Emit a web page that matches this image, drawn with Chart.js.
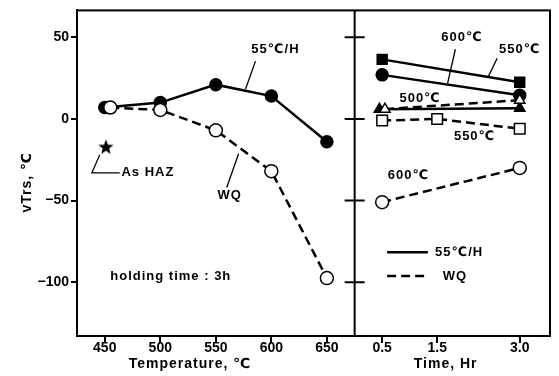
<!DOCTYPE html>
<html>
<head>
<meta charset="utf-8">
<script src="https://cdn.jsdelivr.net/npm/chart.js@4"></script>
<style>
  html, body { margin: 0; padding: 0; background: #fff; }
  #wrap { width: 559px; height: 376px; }
</style>
</head>
<body>
<div id="wrap"><canvas id="c"></canvas></div>
<script>
// left panel: tempering temperature vs vTrs (holding 3h)
const temps = [450, 500, 550, 600, 650];
const slowCool = [7, 10, 21, 14, -14];          // 55°C/H, filled circles
const wqTemps = [455, 500, 550, 600, 650];
const waterQuench = [7, 5.5, -7, -32, -97.5];   // WQ, open circles
const asHazX = [451];
const asHazY = [-17.5];

// right panel: holding time vs vTrs
const times = [0.5, 3.0];
const triTimesS = [0.45, 3.0];
const triTimesW = [0.55, 3.0];
const wqTimes3 = [0.5, 1.5, 3.0];
const slow550 = [36.5, 22.5];   // filled squares
const slow600 = [27, 14.5];     // filled circles
const slow500 = [6, 6.5];       // filled triangles
const wq500 = [6, 11.5];        // open triangles
const wq550 = [-1, 0, -6];      // open squares
const wq600 = [-51, -30];       // open circles

const tempTicks = [450, 500, 550, 600, 650];
const timeTicks = [0.5, 1.5, 3.0];
const vTicks = [-100, -50, 0, 50];

const FONT = '"Liberation Sans", "DejaVu Sans", sans-serif';

function pts(xs, ys) {
  return xs.map((x, i) => ({ x: x, y: ys[i] }));
}

function starImage(r) {
  const c = document.createElement('canvas');
  c.width = c.height = 2 * r + 2;
  const g = c.getContext('2d');
  g.beginPath();
  for (let i = 0; i < 10; i++) {
    const a = -Math.PI / 2 + i * Math.PI / 5;
    const rr = i % 2 ? r * 0.42 : r;
    g.lineTo(r + 1 + rr * Math.cos(a), r + 1 + rr * Math.sin(a));
  }
  g.closePath();
  g.fillStyle = '#000';
  g.fill();
  return c;
}

function series(xs, ys, axis, dashed, filled, style, radius) {
  return {
    data: pts(xs, ys),
    xAxisID: axis,
    yAxisID: 'y',
    borderColor: '#000',
    borderWidth: 2.5,
    borderDash: dashed ? [9, 5] : [],
    pointStyle: style,
    pointRadius: radius,
    pointBorderWidth: 1.5,
    pointBorderColor: '#000',
    pointBackgroundColor: filled ? '#000' : '#fff',
    tension: 0
  };
}

// text labels in data coordinates
const labels = [
  { text: '55℃/H', axis: 'xT', x: 582, y: 42.7, align: 'left' },
  { text: 'WQ', axis: 'xT', x: 562.5, y: -47, align: 'center' },
  { text: 'As HAZ', axis: 'xT', x: 465, y: -33, align: 'left' },
  { text: 'holding time : 3h', axis: 'xT', x: 455, y: -96.3, align: 'left' },
  { text: '600℃', axis: 'xH', x: 1.95, y: 50, align: 'center' },
  { text: '550℃', axis: 'xH', x: 3.0, y: 42.7, align: 'center' },
  { text: '500℃', axis: 'xH', x: 1.19, y: 12.8, align: 'center' },
  { text: '550℃', axis: 'xH', x: 2.18, y: -11, align: 'center' },
  { text: '600℃', axis: 'xH', x: 0.98, y: -34.8, align: 'center' }
];
const leaders = [
  { axis: 'xT', xs: [585.7, 576.8], ys: [35.4, 18.3] },
  { axis: 'xT', xs: [559.8, 570.5], ys: [-42, -21.3] },
  { axis: 'xT', xs: [445.5, 438.4, 463.5], ys: [-22, -33, -33] },
  { axis: 'xH', xs: [1.83, 1.69], ys: [42.7, 21.9] },
  { axis: 'xH', xs: [2.59, 2.42], ys: [37.2, 25.3] }
];
const legendItems = [
  { text: '55℃/H', dashed: false, y: -81.7, tx: 1.46 },
  { text: 'WQ', dashed: true, y: -96.3, tx: 1.6 }
];
const legendLine = [0.59, 1.33];

const framePlugin = {
  id: 'framePlugin',
  afterDraw(chart) {
    const { ctx, chartArea: a, scales } = chart;
    const y = scales.y;
    ctx.save();
    ctx.strokeStyle = '#000';
    ctx.fillStyle = '#000';
    ctx.lineWidth = 2;
    ctx.strokeRect(a.left, a.top, a.right - a.left, a.bottom - a.top);
    const d = scales.xT.right;
    ctx.beginPath();
    ctx.moveTo(d, a.top);
    ctx.lineTo(d, a.bottom);
    vTicks.forEach(v => {
      const py = y.getPixelForValue(v);
      ctx.moveTo(d - 10, py);
      ctx.lineTo(d + 10, py);
    });
    ctx.stroke();

    // leader lines
    ctx.lineWidth = 1.3;
    leaders.forEach(l => {
      const sx = scales[l.axis];
      ctx.beginPath();
      l.xs.forEach((xv, i) => {
        const px = sx.getPixelForValue(xv), py = y.getPixelForValue(l.ys[i]);
        if (i === 0) ctx.moveTo(px, py); else ctx.lineTo(px, py);
      });
      ctx.stroke();
    });

    // labels
    ctx.font = 'bold 13px ' + FONT;
    ctx.textBaseline = 'middle';
    try { ctx.letterSpacing = '1px'; } catch (e) {}
    labels.forEach(l => {
      ctx.textAlign = l.align;
      ctx.fillText(l.text, scales[l.axis].getPixelForValue(l.x), y.getPixelForValue(l.y));
    });

    // legend
    const xH = scales.xH;
    legendItems.forEach(it => {
      const py = y.getPixelForValue(it.y);
      ctx.beginPath();
      ctx.lineWidth = 2.5;
      ctx.setLineDash(it.dashed ? [9, 5] : []);
      ctx.moveTo(xH.getPixelForValue(legendLine[0]), py);
      ctx.lineTo(xH.getPixelForValue(legendLine[1]), py);
      ctx.stroke();
      ctx.setLineDash([]);
      ctx.textAlign = 'left';
      ctx.fillText(it.text, xH.getPixelForValue(it.tx), py);
    });

    // axis titles
    ctx.font = 'bold 14px ' + FONT;
    ctx.textAlign = 'center';
    ctx.fillText('Temperature, ℃', scales.xT.left + 113, a.bottom + 28);
    ctx.fillText('Time, Hr', xH.left + 91, a.bottom + 28);
    ctx.translate(a.left - 50, (a.top + a.bottom) / 2 + 9);
    ctx.rotate(-Math.PI / 2);
    ctx.fillText('vTrs, ℃', 0, 0);
    ctx.restore();
  }
};

const tickFont = { family: FONT, size: 14, weight: 'bold' };
const gridOpts = { drawOnChartArea: false, color: '#000', lineWidth: 2, tickLength: 7 };

new Chart(document.getElementById('c'), {
  type: 'line',
  data: {
    datasets: [
      series(wqTemps, waterQuench, 'xT', true, false, 'circle', 6.5),
      series(temps, slowCool, 'xT', false, true, 'circle', 6),
      { data: pts(asHazX, asHazY), xAxisID: 'xT', yAxisID: 'y', showLine: false,
        pointStyle: starImage(8), pointRadius: 8 },
      series(triTimesW, wq500, 'xH', true, false, 'triangle', 6),
      series(wqTimes3, wq550, 'xH', true, false, 'rect', 7.5),
      series(times, wq600, 'xH', true, false, 'circle', 6.5),
      series(times, slow550, 'xH', false, true, 'rect', 7),
      series(times, slow600, 'xH', false, true, 'circle', 6),
      series(triTimesS, slow500, 'xH', false, true, 'triangle', 6)
    ]
  },
  options: {
    responsive: true,
    maintainAspectRatio: false,
    animation: false,
    events: [],
    layout: { padding: { top: 9, right: 5, left: 0, bottom: 0 } },
    plugins: { legend: { display: false }, tooltip: { enabled: false } },
    scales: {
      xT: {
        type: 'linear', position: 'bottom', stack: 'x', stackWeight: 280,
        min: 425, max: 675,
        afterBuildTicks: s => { s.ticks = tempTicks.map(v => ({ value: v })); },
        afterFit: s => { s.height = 40; },
        grid: gridOpts,
        border: { color: '#000', width: 2 },
        ticks: { color: '#000', font: tickFont, padding: -3, maxRotation: 0, autoSkip: false }
      },
      xH: {
        type: 'linear', position: 'bottom', stack: 'x', stackWeight: 197,
        min: 0, max: 3.55,
        afterBuildTicks: s => { s.ticks = timeTicks.map(v => ({ value: v })); },
        afterFit: s => { s.height = 40; },
        grid: gridOpts,
        border: { color: '#000', width: 2 },
        ticks: { color: '#000', font: tickFont, padding: -3, maxRotation: 0, autoSkip: false,
                 callback: v => v.toFixed(1) }
      },
      y: {
        type: 'linear', position: 'left',
        min: -133, max: 66.5,
        afterBuildTicks: s => { s.ticks = vTicks.map(v => ({ value: v })); },
        afterFit: s => { s.width = 77; },
        grid: { drawOnChartArea: false, color: '#000', lineWidth: 2, tickLength: 6 },
        border: { color: '#000', width: 2 },
        ticks: { color: '#000', font: tickFont, padding: 2,
                 callback: v => String(v).replace('-', '−') }
      }
    }
  },
  plugins: [framePlugin]
});
</script>
</body>
</html>
